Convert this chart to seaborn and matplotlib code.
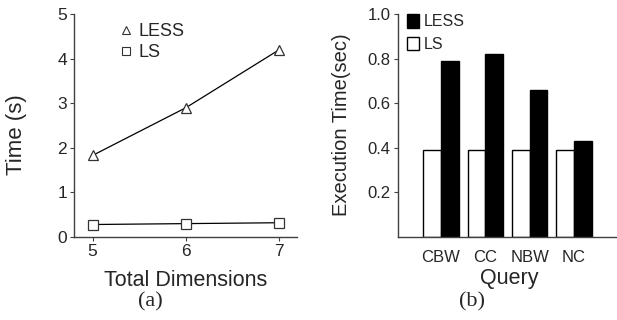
import matplotlib
matplotlib.use("Agg")
import matplotlib.pyplot as plt
import seaborn as sns
import pandas as pd

dims = [5, 6, 7]
less_time = [1.83, 2.90, 4.20]
ls_time = [0.28, 0.30, 0.32]

queries = ["CBW", "CC", "NBW", "NC"]
less_exec = [0.79, 0.82, 0.66, 0.43]
ls_exec = [0.39, 0.39, 0.39, 0.39]

sns.set_style("white")
plt.rcParams['font.family'] = ['Liberation Sans', 'DejaVu Sans']

W, H = 617, 320
fig = plt.figure(figsize=(W / 100, H / 100), dpi=100)
ax1 = fig.add_axes([74/W, 83/H, (297-74)/W, 223/H])
ax2 = fig.add_axes([397.5/W, 83/H, (617-397.5)/W, 223/H])

spine_c = "#404040"

# Panel (a)
df1 = pd.DataFrame({
    "dim": dims * 2,
    "time": less_time + ls_time,
    "method": ["LESS"] * 3 + ["LS"] * 3,
})
sns.lineplot(data=df1, x="dim", y="time", hue="method", style="method",
             markers={"LESS": "^", "LS": "s"}, dashes=False,
             palette={"LESS": "black", "LS": "black"}, ax=ax1,
             markersize=6.5, markerfacecolor="white", markeredgecolor="#333333",
             markeredgewidth=0.9, linewidth=0.9)
ax1.set_xlim(4.80, 7.19)
ax1.set_ylim(0, 5)
ax1.set_xticks(dims)
ax1.set_yticks([0, 1, 2, 3, 4, 5])
ax1.set_xlabel("Total Dimensions", fontsize=15.5, va="center")
ax1.set_ylabel("Time (s)", fontsize=16, va="center", ha="center")
ax1.xaxis.set_label_coords(0.502, -0.193)
ax1.yaxis.set_label_coords(-0.256, 0.46)
ax1.tick_params(labelsize=12.5, length=3, width=0.8, color=spine_c, pad=2)
ax1.tick_params(axis="x", bottom=True)
ax1.tick_params(axis="y", left=True)
leg1 = ax1.legend(loc="center left", bbox_to_anchor=((121-74)/223, (237-42)/223),
                  frameon=False, fontsize=13, handlelength=0.6,
                  handletextpad=0.35, labelspacing=0.22, borderaxespad=0,
                  borderpad=0)
for h in leg1.legend_handles:
    h.set_linestyle("none")
    h.set_markersize(5.5)
    h.set_markerfacecolor("white")
    h.set_markeredgecolor("#333333")
    h.set_markeredgewidth(0.8)
for s in ["top", "right"]:
    ax1.spines[s].set_visible(False)
for s in ["left", "bottom"]:
    ax1.spines[s].set_color(spine_c)
    ax1.spines[s].set_linewidth(1.0)

# Panel (b)
df2 = pd.DataFrame({
    "query": queries * 2,
    "time": ls_exec + less_exec,
    "method": ["LS"] * 4 + ["LESS"] * 4,
})
sns.barplot(data=df2, x="query", y="time", hue="method",
            palette={"LS": "white", "LESS": "black"},
            hue_order=["LS", "LESS"], width=0.80, ax=ax2,
            edgecolor="black", linewidth=1.0, saturation=1)
ax2.set_xlim(-0.98, 3.97)
ax2.set_ylim(0, 1.0)
ax2.set_yticks([0.2, 0.4, 0.6, 0.8, 1.0])
ax2.set_yticklabels(["0.2", "0.4", "0.6", "0.8", "1.0"])
ax2.set_xlabel("Query", fontsize=15.5, va="center")
ax2.set_ylabel("Execution Time(sec)", fontsize=14.5, va="center", ha="center")
ax2.xaxis.set_label_coords(0.51, -0.185)
ax2.yaxis.set_label_coords(-0.253, 0.504)
ax2.tick_params(labelsize=12, length=3, width=0.8, color=spine_c, pad=2)
ax2.tick_params(axis="x", bottom=False, pad=6)
ax2.tick_params(axis="y", left=True)
handles, labels = ax2.get_legend_handles_labels()
order = [labels.index("LESS"), labels.index("LS")]
leg2 = ax2.legend([handles[i] for i in order], [labels[i] for i in order],
                  loc="center left",
                  bbox_to_anchor=((407-397.5)/219.5, (237-33)/223),
                  frameon=False, fontsize=11.5, handlelength=0.75,
                  handleheight=0.95, handletextpad=0.3, labelspacing=0.45,
                  borderaxespad=0, borderpad=0)
for s in ["top", "right"]:
    ax2.spines[s].set_visible(False)
for s in ["left", "bottom"]:
    ax2.spines[s].set_color(spine_c)
    ax2.spines[s].set_linewidth(1.0)

fig.text(150/W, 1 - 302/H, "(a)", ha="center", va="center",
         fontsize=16, family=["Liberation Serif", "DejaVu Serif"])
fig.text(472/W, 1 - 302/H, "(b)", ha="center", va="center",
         fontsize=16, family=["Liberation Serif", "DejaVu Serif"])

fig.savefig("out.png", dpi=100)
